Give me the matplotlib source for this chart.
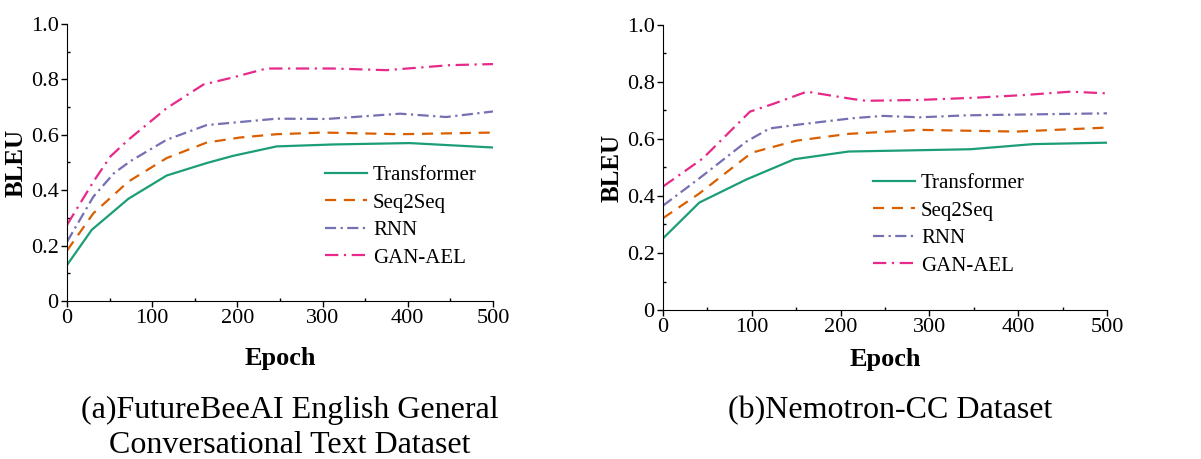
import numpy as np
import matplotlib
matplotlib.use("Agg")
import matplotlib.pyplot as plt
from matplotlib.ticker import MultipleLocator

plt.rcParams['font.family'] = ['Liberation Serif', 'DejaVu Serif']

# BLEU curves
# (a) FutureBeeAI English General Conversational Text Dataset
a_tr_x = [0, 29, 72, 117, 164, 195, 246, 312, 402, 500]
a_tr_y = [0.13, 0.257, 0.369, 0.453, 0.498, 0.524, 0.558, 0.565, 0.570, 0.554]
a_s2s_x = [0, 31, 72, 117, 164, 203, 246, 301, 391, 500]
a_s2s_y = [0.182, 0.317, 0.431, 0.516, 0.572, 0.590, 0.602, 0.608, 0.602, 0.608]
a_rnn_x = [0, 31, 55, 74, 117, 164, 246, 305, 391, 445, 500]
a_rnn_y = [0.214, 0.377, 0.461, 0.504, 0.582, 0.635, 0.658, 0.657, 0.676, 0.664, 0.684]
a_gan_x = [0, 31, 51, 72, 117, 160, 195, 234, 312, 375, 449, 500]
a_gan_y = [0.275, 0.431, 0.522, 0.582, 0.696, 0.781, 0.807, 0.839, 0.839, 0.833, 0.851, 0.855]

# (b) Nemotron-CC Dataset
b_tr_x = [0, 41, 94, 148, 209, 346, 417, 500]
b_tr_y = [0.251, 0.377, 0.458, 0.529, 0.556, 0.564, 0.582, 0.587]
b_s2s_x = [0, 41, 100, 150, 209, 289, 398, 500]
b_s2s_y = [0.322, 0.409, 0.552, 0.594, 0.618, 0.632, 0.626, 0.640]
b_rnn_x = [0, 41, 94, 120, 154, 214, 248, 289, 342, 500]
b_rnn_y = [0.366, 0.462, 0.591, 0.637, 0.651, 0.673, 0.681, 0.676, 0.683, 0.690]
b_gan_x = [0, 45, 98, 124, 162, 214, 229, 289, 353, 406, 459, 500]
b_gan_y = [0.433, 0.532, 0.696, 0.723, 0.766, 0.740, 0.734, 0.737, 0.745, 0.754, 0.766, 0.760]

labels = ['Transformer', 'Seq2Seq', 'RNN', 'GAN-AEL']
colors = ['#1b9e77', '#d95f02', '#7570b3', '#e7298a']
styles = ['-', (0, (5, 3.5)), (0, (5, 2, 1, 2)), (0, (6, 2.5, 1, 2.5))]

captions = ['(a)FutureBeeAI English General\nConversational Text Dataset',
            '(b)Nemotron-CC Dataset']

fig = plt.figure(figsize=(12.01, 4.59), dpi=100)
ax1 = fig.add_axes([0.0558, 0.344, 0.3547, 0.604])
ax2 = fig.add_axes([0.552, 0.3246, 0.3697, 0.621])

panels = [
    (ax1, [(a_tr_x, a_tr_y), (a_s2s_x, a_s2s_y), (a_rnn_x, a_rnn_y), (a_gan_x, a_gan_y)],
     (0.606, 0.305), -0.166),
    (ax2, [(b_tr_x, b_tr_y), (b_s2s_x, b_s2s_y), (b_rnn_x, b_rnn_y), (b_gan_x, b_gan_y)],
     (0.473, 0.30), -0.133),
]

for ax, series, legpos, xlab_y in panels:
    for (x, y), lab, c, ls in zip(series, labels, colors, styles):
        ax.plot(x, y, color=c, linestyle=ls, linewidth=1.6, label=lab)
    ax.set_xlim(0, 500)
    ax.set_ylim(0, 1.0)
    ax.xaxis.set_major_locator(MultipleLocator(100))
    ax.xaxis.set_minor_locator(MultipleLocator(50))
    ax.yaxis.set_major_locator(MultipleLocator(0.2))
    ax.yaxis.set_minor_locator(MultipleLocator(0.1))
    ax.set_yticks([0, 0.2, 0.4, 0.6, 0.8, 1.0])
    ax.set_yticklabels(['0', '0.2', '0.4', '0.6', '0.8', '1.0'])
    ax.spines['top'].set_visible(False)
    ax.spines['right'].set_visible(False)
    ax.tick_params(which='major', direction='out', length=4, width=1, labelsize=16, pad=2)
    ax.tick_params(which='minor', direction='in', length=2, width=1)
    ax.set_xlabel('Epoch', fontsize=19, fontweight='bold')
    ax.xaxis.set_label_coords(0.5, xlab_y)
    ax.set_ylabel('BLEU', fontsize=18, fontweight='bold', labelpad=2)
    ax.legend(loc='center left', bbox_to_anchor=legpos, frameon=False, fontsize=15,
              handlelength=2.0, handletextpad=0.3, labelspacing=0.38,
              borderpad=0, borderaxespad=0)

fig.text(290 / 1201, 1 - 428 / 459, captions[0], ha='center', va='center',
         fontsize=23, linespacing=1.28)
fig.text(890 / 1201, 1 - 411 / 459, captions[1], ha='center', va='center',
         fontsize=23)

fig.savefig('out.png', dpi=100)
